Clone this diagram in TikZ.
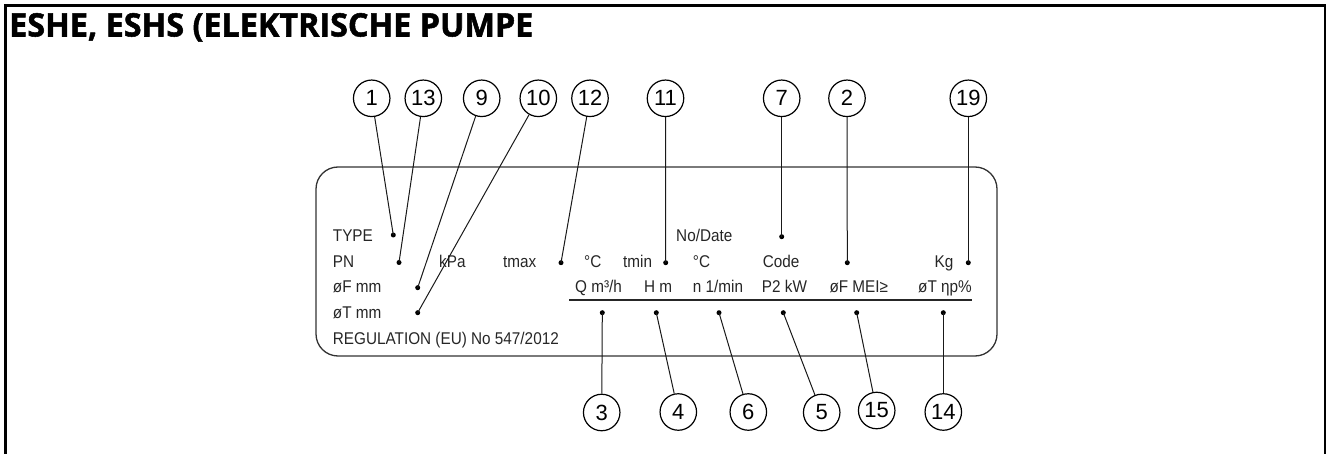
\documentclass[tikz,border=0pt]{standalone}
\usepackage{fontspec}
\setmainfont{Liberation Sans}
\newfontfamily\labfont[FakeStretch=0.9]{Liberation Sans}
\newfontfamily\titlefont[BoldFeatures={FakeBold=1.6}]{Open Sans}
\begin{document}
\begin{tikzpicture}[x=1pt,y=-1pt,
  num/.style={draw=black,circle,line width=1.2pt,minimum size=36.5pt,inner sep=0pt,font=\fontsize{22}{22}\selectfont},
  pt/.style={circle,fill=black,inner sep=0pt,minimum size=5pt},
  lbl/.style={anchor=base west,inner sep=0pt,text=black!85,font=\labfont\fontsize{17}{20}\selectfont},
  lead/.style={line width=1pt,draw=black!90}]
\useasboundingbox (0,0) rectangle (1326,454);
% outer frame
\draw[line width=3pt] (5,454) -- (5,6) -- (1326,6);
\draw[line width=2pt] (1325,6) -- (1325,454);
% title
\node[anchor=base west,inner sep=0pt] (title) at (9,36.5)
  {\resizebox{524pt}{!}{\titlefont\bfseries ESHE, ESHS (ELEKTRISCHE PUMPE}};
% plate
\draw[line width=1.3pt,draw=black!80,rounded corners=22pt] (316,167) rectangle (997,356);
% texts
\node[lbl] (tType) at (332.7,242) {TYPE};
\node[lbl] (tNo) at (676,242) {No/Date};
\node[lbl] (tPN) at (332.7,268) {PN};
\node[lbl] (tkPa) at (439,268) {kPa};
\node[lbl] (ttmax) at (503,268) {tmax};
\node[lbl] (tC1) at (584,268) {°C};
\node[lbl] (ttmin) at (623,268) {tmin};
\node[lbl] (tC2) at (692.7,268) {°C};
\node[lbl] (tCode) at (762.7,268) {Code};
\node[lbl,anchor=base east] (tKg) at (953.5,268) {Kg};
\node[lbl] (tFmm) at (332.7,293) {øF mm};
\node[lbl] (tQ) at (575,293) {Q m³/h};
\node[lbl] (tH) at (644,293) {H m};
\node[lbl] (tn) at (692.7,293) {n 1/min};
\node[lbl] (tP2) at (761.7,293) {P2 kW};
\node[lbl] (tMEI) at (829.3,293) {øF MEI≥};
\node[lbl,anchor=base east] (teta) at (972,293) {øT ηp\%};
\node[lbl] (tTmm) at (332.7,318.5) {øT mm};
\node[lbl] (tReg) at (332.7,344.5) {REGULATION (EU) No 547/2012};
\coordinate (ulA) at (569,300);
\coordinate (ulB) at (972,300);
\draw[line width=1.4pt,draw=black!85] (ulA) -- (ulB);
% numbered circles (top)
\node[num] (c1) at (371.7,98.3) {1};
\node[num] (c13) at (423.3,98.3) {13};
\node[num] (c9) at (481.7,98.3) {9};
\node[num] (c10) at (538.3,98.3) {10};
\node[num] (c12) at (590,98.3) {12};
\node[num] (c11) at (665.5,98.3) {11};
\node[num] (c7) at (781.7,98.3) {7};
\node[num] (c2) at (847,98.3) {2};
\node[num] (c19) at (968.3,98.3) {19};
% numbered circles (bottom)
\node[num] (c3) at (601.7,412.5) {3};
\node[num] (c4) at (678.3,412) {4};
\node[num] (c6) at (748.3,412) {6};
\node[num] (c5) at (821.7,412.5) {5};
\node[num] (c15) at (876.7,410.5) {15};
\node[num] (c14) at (943.3,412) {14};
% dots
\node[pt] (d1) at (393.3,235) {};
\node[pt] (d13) at (399,262.5) {};
\node[pt] (d9) at (417.7,287.7) {};
\node[pt] (d10) at (417.7,312.7) {};
\node[pt] (d12) at (561,262.7) {};
\node[pt] (d11) at (665.7,262.7) {};
\node[pt] (d7) at (781.7,236.7) {};
\node[pt] (d2) at (847.3,262.7) {};
\node[pt] (d19) at (968.3,262.7) {};
\node[pt] (d3) at (602.3,312.7) {};
\node[pt] (d4) at (656.3,312.7) {};
\node[pt] (d6) at (719,312.7) {};
\node[pt] (d5) at (783.3,312.7) {};
\node[pt] (d15) at (856.7,312.7) {};
\node[pt] (d14) at (943.3,312.7) {};
% leaders
\foreach \n in {1,13,9,10,12,11,7,2,19,3,4,6,5,15,14}
  \draw[lead] (c\n) -- (d\n.center);
\end{tikzpicture}
\end{document}
